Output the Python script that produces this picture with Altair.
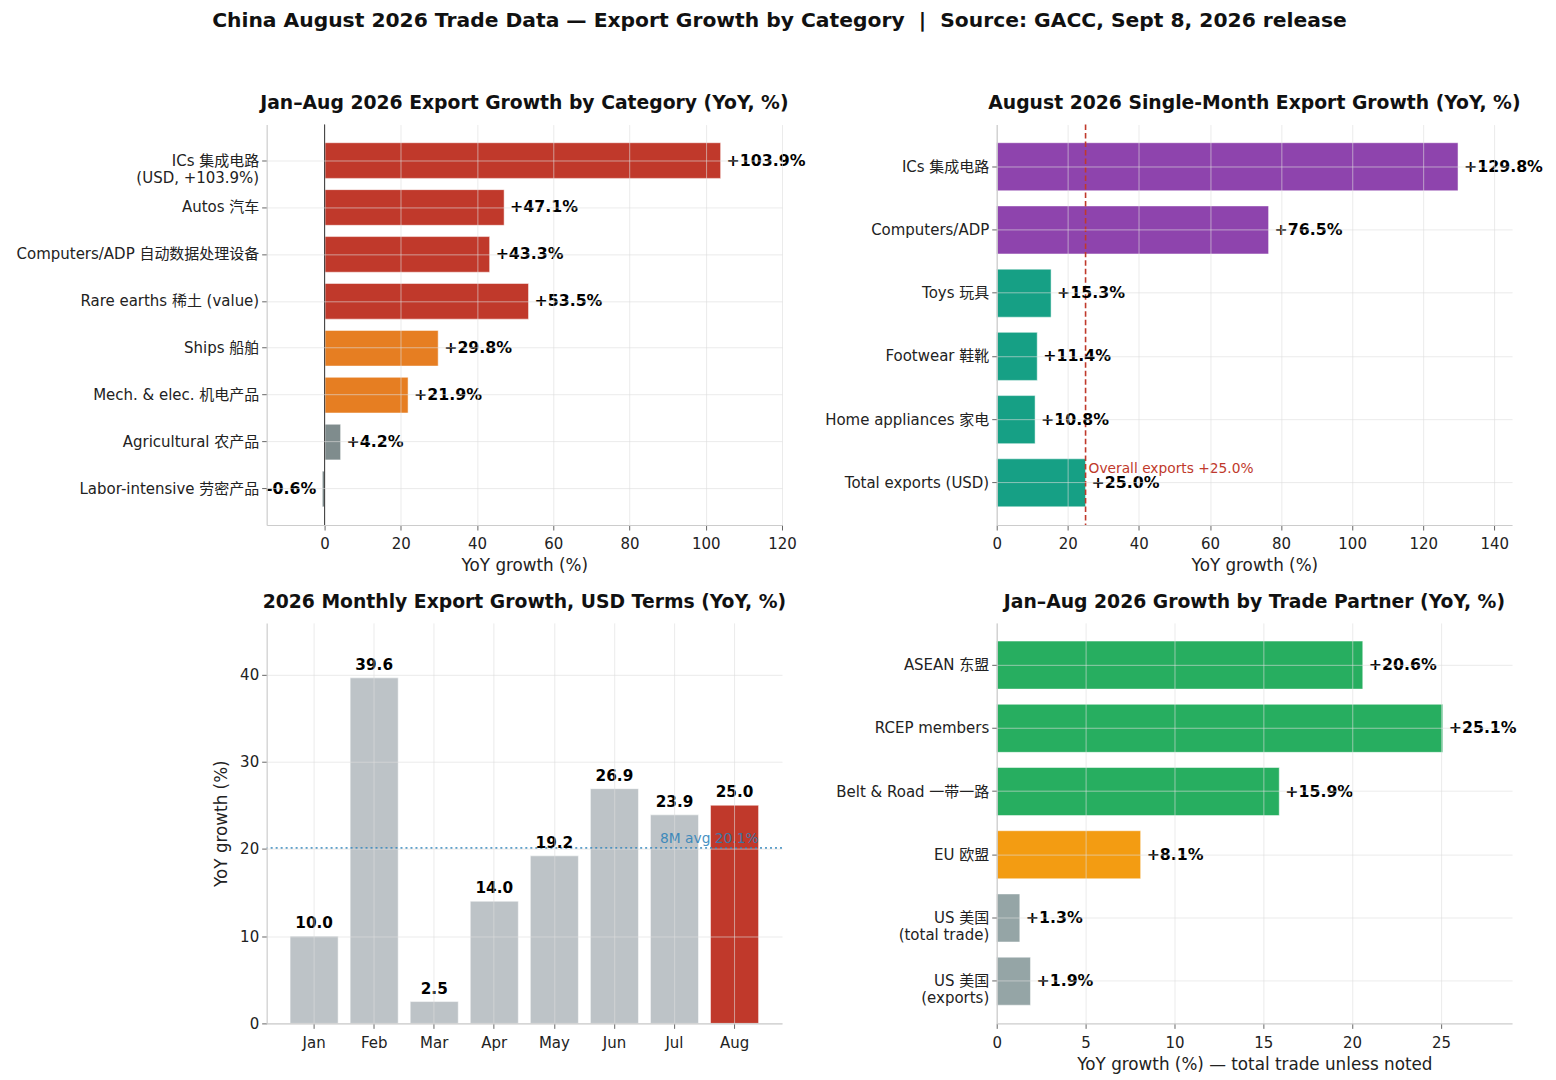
import altair as alt
import pandas as pd

FONT = "DejaVu Sans, Noto Sans CJK SC, sans-serif"

# ---- Panel 1: Jan-Aug cumulative export growth by category
cat_cum = ["ICs 集成电路\n(USD, +103.9%)", "Autos 汽车", "Computers/ADP 自动数据处理设备",
           "Rare earths 稀土 (value)", "Ships 船舶", "Mech. & elec. 机电产品",
           "Agricultural 农产品", "Labor-intensive 劳密产品"]
val_cum = [103.9, 47.1, 43.3, 53.5, 29.8, 21.9, 4.2, -0.6]
col_cum = ["#c0392b", "#c0392b", "#c0392b", "#c0392b", "#e67e22", "#e67e22", "#7f8c8d", "#7f8c8d"]

# ---- Panel 2: August single month
cat_aug = ["ICs 集成电路", "Computers/ADP", "Toys 玩具", "Footwear 鞋靴",
           "Home appliances 家电", "Total exports (USD)"]
val_aug = [129.8, 76.5, 15.3, 11.4, 10.8, 25.0]
col_aug = ["#8e44ad", "#8e44ad", "#16a085", "#16a085", "#16a085", "#16a085"]
overall_aug = 25.0

# ---- Panel 3: monthly growth
months = ["Jan", "Feb", "Mar", "Apr", "May", "Jun", "Jul", "Aug"]
val_month = [10.0, 39.6, 2.5, 14.0, 19.2, 26.9, 23.9, 25.0]
col_month = ["#bdc3c7"] * 7 + ["#c0392b"]
avg_8m = 20.1

# ---- Panel 4: trade partners
cat_partner = ["ASEAN 东盟", "RCEP members", "Belt & Road 一带一路", "EU 欧盟",
               "US 美国\n(total trade)", "US 美国\n(exports)"]
val_partner = [20.6, 25.1, 15.9, 8.1, 1.3, 1.9]
col_partner = ["#27ae60", "#27ae60", "#27ae60", "#f39c12", "#95a5a6", "#95a5a6"]

W, H = 516, 401
GRID = dict(grid=True, gridColor="#dddddd", gridOpacity=0.6, zindex=1, labelFlush=False)
XAX = dict(labelPadding=7, titlePadding=6)
VAL_FS = 15.8


def title_p(t):
    return alt.TitleParams(t, fontSize=18.8, fontWeight="bold", font=FONT, anchor="middle",
                           offset=11, color="#111")


def hbar(cats, vals, cols, domain, ticks, xtitle, po):
    df = pd.DataFrame({"cat": cats, "val": vals, "col": cols,
                       "lbl": [f"{v:+.1f}%" for v in vals]})
    y = alt.Y("cat:N", sort=cats, title=None,
              scale=alt.Scale(paddingInner=0.24, paddingOuter=po),
              axis=alt.Axis(labelExpr="split(datum.label, '\\n')", labelLineHeight=17,
                            bandPosition=0.5, labelLimit=400, **GRID))
    x = alt.X("val:Q", title=xtitle,
              scale=alt.Scale(domain=domain, nice=False, zero=False),
              axis=alt.Axis(values=ticks, **GRID, **XAX))
    base = alt.Chart(df)
    bars = base.mark_bar(stroke="white", strokeWidth=0.5).encode(
        x=x, y=y, color=alt.Color("col:N", scale=None))
    pos = base.transform_filter("datum.val >= 0").mark_text(
        align="left", dx=6, fontWeight="bold", fontSize=VAL_FS, font=FONT, color="black"
    ).encode(x="val:Q", y=alt.Y("cat:N", sort=cats), text="lbl:N")
    neg = base.transform_filter("datum.val < 0").mark_text(
        align="right", dx=-6, fontWeight="bold", fontSize=VAL_FS, font=FONT, color="black"
    ).encode(x="val:Q", y=alt.Y("cat:N", sort=cats), text="lbl:N")
    return bars, pos, neg


# Panel 1
bars1, pos1, neg1 = hbar(cat_cum, val_cum, col_cum, [-15.2, 120], [0, 20, 40, 60, 80, 100, 120],
                         "YoY growth (%)", 0.3875)
zero1 = alt.Chart(pd.DataFrame({"z": [0]})).mark_rule(color="black", strokeWidth=1).encode(x="z:Q")
p1 = alt.layer(bars1, zero1, pos1, neg1).properties(
    width=W, height=H, title=title_p("Jan–Aug 2026 Export Growth by Category (YoY, %)"))

# Panel 2
bars2, pos2, neg2 = hbar(cat_aug, val_aug, col_aug, [0, 145], [0, 20, 40, 60, 80, 100, 120, 140],
                         "YoY growth (%)", 0.2875)
ref2 = pd.DataFrame({"v": [overall_aug], "cat": ["Total exports (USD)"],
                     "t": [f"Overall exports {overall_aug:+.1f}%"]})
line2 = alt.Chart(ref2).mark_rule(color="#c0392b", strokeDash=[5.5, 3], strokeWidth=1.6).encode(x="v:Q")
note2 = alt.Chart(ref2).mark_text(align="left", baseline="middle", dx=3, dy=-14, fontSize=13.8,
                                  font=FONT, color="#c0392b").encode(
    x="v:Q", y=alt.Y("cat:N", sort=cat_aug), text="t:N")
p2 = alt.layer(bars2, line2, pos2, note2).properties(
    width=W, height=H, title=title_p("August 2026 Single-Month Export Growth (YoY, %)"))

# Panel 3
df3 = pd.DataFrame({"m": months, "val": val_month, "col": col_month,
                    "lbl": [f"{v:.1f}" for v in val_month]})
x3 = alt.X("m:N", sort=months, title=None,
           scale=alt.Scale(paddingInner=0.2, paddingOuter=0.39),
           axis=alt.Axis(labelAngle=0, bandPosition=0.5, **GRID, **XAX))
y3 = alt.Y("val:Q", title="YoY growth (%)",
           scale=alt.Scale(domain=[0, 45.9], nice=False),
           axis=alt.Axis(values=[0, 10, 20, 30, 40], titlePadding=9, **GRID))
bars3 = alt.Chart(df3).mark_bar(stroke="white", strokeWidth=0.5).encode(
    x=x3, y=y3, color=alt.Color("col:N", scale=None))
lbl3 = alt.Chart(df3).mark_text(baseline="bottom", dy=-5, fontWeight="bold", fontSize=15.3,
                                font=FONT, color="black").encode(
    x=alt.X("m:N", sort=months), y="val:Q", text="lbl:N")
ref3 = pd.DataFrame({"v": [avg_8m], "m": ["Aug"], "t": [f"8M avg {avg_8m}%"]})
line3 = alt.Chart(ref3).mark_rule(color="#2980b9", strokeDash=[2, 3], strokeWidth=1.6).encode(y="v:Q")
note3 = alt.Chart(ref3).mark_text(align="right", baseline="bottom", dx=24, dy=-2, fontSize=13.8,
                                  font=FONT, color="#2980b9", opacity=0.85).encode(
    x=alt.X("m:N", sort=months), y="v:Q", text="t:N")
p3 = alt.layer(bars3, line3, lbl3, note3).properties(
    width=W, height=H, title=title_p("2026 Monthly Export Growth, USD Terms (YoY, %)"))

# Panel 4
bars4, pos4, neg4 = hbar(cat_partner, val_partner, col_partner, [0, 29], [0, 5, 10, 15, 20, 25],
                         "YoY growth (%) — total trade unless noted", 0.2875)
p4 = alt.layer(bars4, pos4).properties(
    width=W, height=H, title=title_p("Jan–Aug 2026 Growth by Trade Partner (YoY, %)"))

SUP = ("China August 2026 Trade Data — Export Growth by Category\u00a0\u00a0|\u00a0\u00a0"
       "Source: GACC, Sept 8, 2026 release")

chart = alt.concat(p1, p2, p3, p4, columns=2, spacing={"row": 98, "column": 215},
                   bounds="flush").properties(
    title=alt.TitleParams(SUP, fontSize=20.3, fontWeight="bold", font=FONT, anchor="middle",
                          offset=63, color="#111"),
    padding={"left": 7, "top": 2, "right": 5, "bottom": 5},
    background="white",
).configure_view(stroke=None).configure_axis(
    labelFont=FONT, titleFont=FONT, labelFontSize=15, titleFontSize=16.8,
    titleFontWeight="normal", labelColor="#222", titleColor="#222",
    domainColor="#cccccc", domainWidth=1.2, tickColor="#666", tickSize=5, labelPadding=3,
    titlePadding=5,
)

chart.save("out.html", embed_options={"renderer": "svg", "actions": False})
